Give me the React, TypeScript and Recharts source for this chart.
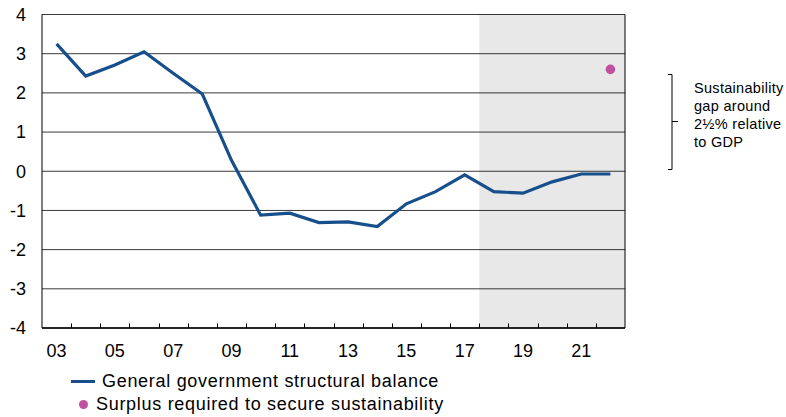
import { LineChart, Line, XAxis, YAxis, CartesianGrid, ReferenceArea } from "recharts"

const years = ["03", "04", "05", "06", "07", "08", "09", "10", "11", "12", "13", "14", "15", "16", "17", "18", "19", "20", "21", "22"]
const structuralBalance = [3.25, 2.43, 2.71, 3.05, 2.5, 1.97, 0.28, -1.12, -1.07, -1.31, -1.29, -1.41, -0.83, -0.52, -0.09, -0.52, -0.56, -0.27, -0.07, -0.07]
const surplusRequired = [null, null, null, null, null, null, null, null, null, null, null, null, null, null, null, null, null, null, null, 2.6]
const yTicks = [-4, -3, -2, -1, 0, 1, 2, 3, 4]

const data = years.map((year, i) => ({
  year,
  balance: structuralBalance[i],
  surplus: surplusRequired[i],
}))

const font = "'Liberation Sans', Arial, sans-serif"
const blue = "#164f8b"
const pink = "#c04f9e"
const TICK_MARGIN = 16

// label every other year, small inward tick at the left edge of each year band
function YearTick(props: any) {
  const { x, y, payload, index } = props
  const band = 583 / years.length
  const axisY = y - TICK_MARGIN
  const left = Math.round(x - band / 2) + 0.5
  return (
    <g>
      {index > 0 && <line x1={left} x2={left} y1={axisY} y2={axisY - 4.5} stroke="#000" strokeWidth={1} />}
      {index % 2 === 0 && (
        <text x={x} y={y} dy="0.71em" textAnchor="middle" fill="#000" fontSize={18} fontFamily={font}>
          {payload.value}
        </text>
      )}
    </g>
  )
}

export default function App() {
  return (
    <div style={{ position: "absolute", left: 0, top: 0, width: 786, height: 417, fontFamily: font, background: "#fff" }}>
      <LineChart width={786} height={417} data={data} margin={{ top: 14.5, right: 0, left: 0, bottom: 49 }}>
        <ReferenceArea yAxisId="left" x1="18" x2="22" y1={-4} y2={4} fill="#000" fillOpacity={0.09} stroke="none" />
        <CartesianGrid yAxisId="left" vertical={false} stroke="#3a3a3a" strokeWidth={1} />
        <XAxis
          dataKey="year"
          scale="band"
          interval={0}
          height={40}
          tickSize={0}
          tickMargin={TICK_MARGIN}
          axisLine={{ stroke: "#000", strokeWidth: 1.5 }}
          tick={<YearTick />}
        />
        <YAxis
          yAxisId="left"
          domain={[-4, 4]}
          ticks={yTicks}
          width={42}
          tickSize={0}
          tickMargin={16}
          axisLine={{ stroke: "#000" }}
          tick={{ fill: "#000", fontSize: 18, fontFamily: font }}
        />
        <YAxis
          yAxisId="right"
          orientation="right"
          domain={[-4, 4]}
          ticks={yTicks}
          width={161}
          tickSize={0}
          tickMargin={17}
          axisLine={{ stroke: "#000" }}
          tick={{ fill: "#000", fontSize: 18, fontFamily: font, textAnchor: "start" }}
        />
        <Line
          yAxisId="left"
          dataKey="balance"
          stroke={blue}
          strokeWidth={3.2}
          dot={false}
          isAnimationActive={false}
        />
        <Line
          yAxisId="left"
          dataKey="surplus"
          stroke="none"
          dot={{ r: 4.8, fill: pink, stroke: "none" }}
          isAnimationActive={false}
        />
      </LineChart>

      <svg style={{ position: "absolute", left: 0, top: 0 }} width={786} height={417}>
        <path d="M668 74.5 H672 V169.5 H668 M672 121.5 H678" fill="none" stroke="#000" strokeWidth={1} />
      </svg>
      <div style={{ position: "absolute", left: 694, top: 79, fontSize: 14.5, letterSpacing: 0.3, lineHeight: "18px", color: "#000" }}>
        Sustainability<br />gap around<br />2½% relative<br />to GDP
      </div>

      <div style={{ position: "absolute", left: 71, top: 370, fontSize: 18, letterSpacing: 0.7, color: "#000", lineHeight: "23px" }}>
        <div style={{ display: "flex", alignItems: "center" }}>
          <span style={{ display: "inline-block", width: 24, height: 3, background: blue, marginRight: 7 }} />
          <span>General government structural balance</span>
        </div>
        <div style={{ display: "flex", alignItems: "center" }}>
          <span style={{ display: "inline-block", width: 9, height: 9, borderRadius: "50%", background: pink, marginLeft: 8, marginRight: 8 }} />
          <span>Surplus required to secure sustainability</span>
        </div>
      </div>
    </div>
  )
}
